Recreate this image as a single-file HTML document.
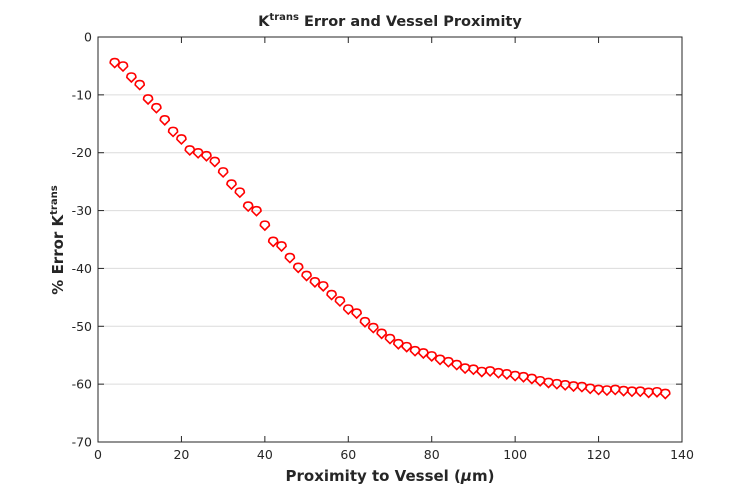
<!DOCTYPE html>
<html><head><meta charset="utf-8"><style>
body{margin:0;background:#fff;}
svg text{font-family:"DejaVu Sans","Liberation Sans",sans-serif;fill:#262626;}
</style></head><body>
<svg id="chart" width="754" height="497" xmlns="http://www.w3.org/2000/svg">
<rect width="754" height="497" fill="#fff"/>
<g id="grid"></g><g id="axes"></g><g id="marks"></g>
<text x="390" y="26" text-anchor="middle" font-size="14.5" font-weight="bold">K<tspan font-size="10" dy="-6">trans</tspan><tspan dy="6"> Error and Vessel Proximity</tspan></text>
<text x="390" y="481" text-anchor="middle" font-size="15" font-weight="bold">Proximity to Vessel (<tspan font-style="italic">μ</tspan>m)</text>
<text transform="translate(63,240) rotate(-90)" text-anchor="middle" font-size="15" font-weight="bold">% Error K<tspan font-size="10" dy="-6">trans</tspan></text>
</svg>
<script>
const xValues=[4,6,8,10,12,14,16,18,20,22,24,26,28,30,32,34,36,38,40,42,44,46,48,50,52,54,56,58,60,62,64,66,68,70,72,74,76,78,80,82,84,86,88,90,92,94,96,98,100,102,104,106,108,110,112,114,116,118,120,122,124,126,128,130,132,134,136];
const errorValues=[-4.5,-5.1,-7.0,-8.3,-10.8,-12.3,-14.4,-16.4,-17.7,-19.6,-20.1,-20.6,-21.6,-23.4,-25.5,-26.9,-29.3,-30.1,-32.6,-35.4,-36.2,-38.2,-39.9,-41.3,-42.4,-43.1,-44.6,-45.7,-47.1,-47.8,-49.3,-50.3,-51.3,-52.2,-53.1,-53.6,-54.3,-54.7,-55.2,-55.8,-56.2,-56.7,-57.3,-57.5,-57.9,-57.8,-58.1,-58.3,-58.6,-58.8,-59.1,-59.5,-59.8,-60.0,-60.2,-60.4,-60.5,-60.8,-61.0,-61.1,-61.0,-61.2,-61.3,-61.3,-61.5,-61.4,-61.7];
const xTicks=[0,20,40,60,80,100,120,140];
const yTicks=[0,-10,-20,-30,-40,-50,-60,-70];
const L=98,R=682,T=37,B=442;
const xs=v=>L+(v-0)/140*(R-L);
const ys=v=>T+(0-v)/70*(B-T);
const NS="http://www.w3.org/2000/svg";
function mk(tag,attrs,parent){const e=document.createElementNS(NS,tag);for(const k in attrs)e.setAttribute(k,attrs[k]);parent.appendChild(e);return e;}
const grid=document.getElementById('grid'),axes=document.getElementById('axes'),marks=document.getElementById('marks');
yTicks.forEach(v=>{
  if(v!==0&&v!==-70){const g=mk('line',{x1:L,x2:R,y1:ys(v),y2:ys(v),stroke:'#dcdcdc','stroke-width':1},grid);
  
  }
  mk('line',{x1:L,x2:L+6,y1:ys(v),y2:ys(v),stroke:'#262626'},axes);
  mk('line',{x1:R,x2:R-6,y1:ys(v),y2:ys(v),stroke:'#262626'},axes);
  const t=mk('text',{x:L-6,y:ys(v)+4.5,'text-anchor':'end','font-size':12.5},axes);t.textContent=v;
  
  
});
xTicks.forEach(v=>{
  mk('line',{x1:xs(v),x2:xs(v),y1:B,y2:B-6,stroke:'#262626'},axes);
  mk('line',{x1:xs(v),x2:xs(v),y1:T,y2:T+6,stroke:'#262626'},axes);
  const t=mk('text',{x:xs(v),y:B+17,'text-anchor':'middle','font-size':12.5},axes);t.textContent=v;
  
  
});
const box=mk('rect',{x:L,y:T,width:R-L,height:B-T,fill:'none',stroke:'#262626','stroke-width':1},axes);


xValues.forEach((x,i)=>{
  const cx=xs(x),cy=ys(errorValues[i]);
  const p=mk('path',{d:`M${cx} ${cy-4.5}Q${cx+4.5} ${cy-4.5} ${cx+4.5} ${cy}L${cx} ${cy+4.5}L${cx-4.5} ${cy}Q${cx-4.5} ${cy-4.5} ${cx} ${cy-4.5}Z`,fill:'none',stroke:'#ff0000','stroke-width':1.6},marks);
  
  
});
</script>
</body></html>
